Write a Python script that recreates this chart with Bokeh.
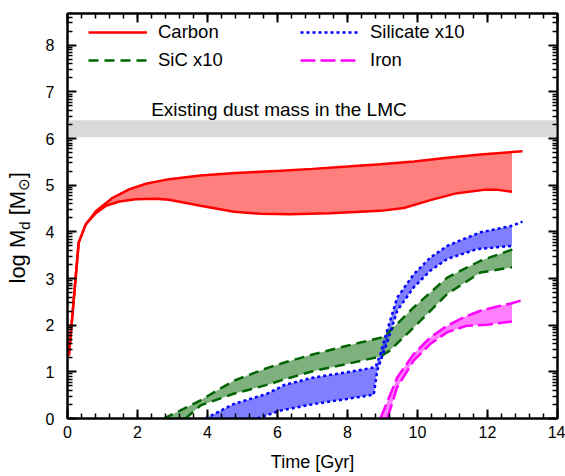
import math
import numpy as np
from bokeh.plotting import figure
from bokeh.layouts import row
from bokeh.models import (FixedTicker, LinearAxis, Legend, LegendItem, Label,
                          BoxAnnotation, Range1d)
from bokeh.embed import file_html
from bokeh.resources import INLINE

# ---------------- data ----------------
carbon_t_upper = [0.04, 0.32, 0.52, 0.81, 1.29, 1.76, 2.24, 2.9, 3.8, 4.8, 6.1, 7.0,
                  8.0, 8.94, 9.9, 10.85, 11.8, 12.7, 13.0]
carbon_upper = [1.35, 3.77, 4.16, 4.44, 4.73, 4.91, 5.03, 5.13, 5.21, 5.26, 5.31, 5.35,
                5.40, 5.45, 5.51, 5.59, 5.66, 5.71, 5.73]
carbon_t_lower = [0.04, 0.32, 0.52, 0.81, 1.1, 1.48, 1.95, 2.52, 2.9, 3.8, 4.76, 5.5,
                  6.37, 7.5, 8.94, 9.61, 10.37, 11.13, 11.9, 12.3, 12.7]
carbon_lower = [1.35, 3.77, 4.16, 4.40, 4.56, 4.65, 4.70, 4.71, 4.69, 4.56, 4.43, 4.39,
                4.38, 4.40, 4.45, 4.51, 4.68, 4.83, 4.90, 4.90, 4.86]

sic_t_upper = [2.75, 3.3, 3.8, 4.75, 5.7, 6.2, 7.04, 7.99, 9.04, 9.45, 9.89, 10.85,
               11.8, 12.7, 12.85]
sic_upper = [0.0, 0.2, 0.39, 0.81, 1.08, 1.2, 1.38, 1.56, 1.75, 2.05, 2.38, 3.02,
             3.38, 3.62, 3.66]
sic_t_lower = [3.37, 3.8, 4.75, 5.7, 6.2, 7.04, 7.99, 8.94, 9.2, 9.89, 10.85, 11.8, 12.7]
sic_lower = [0.0, 0.28, 0.53, 0.72, 0.84, 1.02, 1.17, 1.33, 1.45, 1.95, 2.67, 3.13, 3.24]

sil_t_upper = [3.94, 4.75, 5.7, 6.2, 7.04, 7.99, 8.8, 8.94, 9.13, 9.42, 9.89, 10.37,
               10.85, 11.23, 11.8, 12.7, 13.0]
sil_upper = [0.0, 0.31, 0.53, 0.72, 0.88, 0.99, 1.10, 1.38, 1.88, 2.59, 3.09, 3.45,
             3.70, 3.82, 3.99, 4.13, 4.22]
sil_t_lower = [5.42, 6.09, 7.04, 7.99, 8.75, 8.85, 9.0, 9.13, 9.42, 9.89, 10.37, 10.85,
               11.7, 12.7]
sil_lower = [0.0, 0.17, 0.31, 0.42, 0.51, 1.03, 1.35, 1.62, 2.31, 2.81, 3.17, 3.42,
             3.63, 3.70]

iron_t_upper = [8.94, 9.42, 9.89, 10.37, 10.85, 11.32, 11.8, 12.28, 12.7, 13.0]
iron_upper = [0.0, 0.88, 1.38, 1.74, 1.99, 2.17, 2.31, 2.40, 2.47, 2.54]
iron_t_lower = [9.14, 9.42, 9.89, 10.37, 10.85, 11.42, 11.99, 12.7]
iron_lower = [0.0, 0.67, 1.24, 1.60, 1.85, 1.99, 2.01, 2.08]

band_end = 12.7                      # model end time of the shaded ranges
lmc_dust = [6.03, 6.39]              # existing dust mass range in the LMC (log)
lmc_text = "Existing dust mass in the LMC"

x_major = [0, 2, 4, 6, 8, 10, 12, 14]
y_major = [0, 1, 2, 3, 4, 5, 6, 7, 8]
labels = ["Carbon", "SiC x10", "Silicate x10", "Iron"]

# ---------------- layout constants ----------------
FONT = "Liberation Sans"
X_MAX, Y_MAX = 14, 8.68
W, H = 565, 476
LW = 40                              # width of the strip holding the y-axis title
ML, MR, MT, MB = 67, 8, 13, 58       # frame borders measured from the page

p = figure(width=W - LW, height=H, x_range=Range1d(0, X_MAX), y_range=Range1d(0, Y_MAX),
           output_backend="svg", toolbar_location=None,
           min_border_left=ML - LW, min_border_right=MR, min_border_top=MT,
           min_border_bottom=MB)
p.xgrid.visible = False
p.ygrid.visible = False
p.outline_line_color = "black"
p.outline_line_width = 2
p.background_fill_color = "white"
p.border_fill_color = "white"

x_minor = [round(0.4 * i, 2) for i in range(int(X_MAX / 0.4) + 1)]
y_minor = [n + math.log10(k) for n in range(9) for k in range(2, 10)
           if n + math.log10(k) < Y_MAX]
xt = FixedTicker(ticks=x_major, minor_ticks=x_minor)
yt = FixedTicker(ticks=y_major, minor_ticks=y_minor)


def style_axis(ax, show):
    ax.axis_line_width = 2
    ax.major_tick_line_width = 2
    ax.minor_tick_line_width = 1.5
    ax.major_tick_in = 9
    ax.major_tick_out = 0
    ax.minor_tick_in = 5
    ax.minor_tick_out = 0
    ax.major_label_text_font = FONT
    ax.major_label_text_font_size = "16px"
    ax.major_label_text_color = "black"
    ax.axis_label_text_font = FONT
    ax.axis_label_text_font_style = "normal"
    ax.axis_label_text_font_size = "18px"
    ax.axis_label_text_color = "black"
    if not show:
        ax.major_label_standoff = 0
        ax.major_label_overrides = {t: "" for t in ax.ticker.ticks}


xa = p.xaxis[0]
xa.ticker = xt
style_axis(xa, True)
xa.major_label_standoff = 7
xa.axis_label = "Time [Gyr]"
xa.axis_label_standoff = 11

ya = p.yaxis[0]
ya.ticker = yt
style_axis(ya, True)
ya.major_label_standoff = 13

top = LinearAxis(ticker=FixedTicker(ticks=x_major, minor_ticks=x_minor))
style_axis(top, False)
p.add_layout(top, "above")
right = LinearAxis(ticker=FixedTicker(ticks=y_major, minor_ticks=y_minor))
style_axis(right, False)
p.add_layout(right, "right")

# grey band + its caption
p.add_layout(BoxAnnotation(bottom=lmc_dust[0], top=lmc_dust[1], fill_color="#d9d9d9",
                           fill_alpha=1, line_color=None, level="underlay"))
p.add_layout(Label(x=2.39, y=6.63, text=lmc_text, text_font=FONT, text_font_size="19px",
                   text_color="black", text_baseline="alphabetic", text_align="left"))


def band(tu, yu, tl, yl):
    tu = np.asarray(tu); yu = np.asarray(yu)
    keep = tu <= band_end
    xs = list(tu[keep]); ys = list(yu[keep])
    if xs[-1] < band_end:
        xs.append(band_end); ys.append(float(np.interp(band_end, tu, yu)))
    xs += list(tl)[::-1]; ys += list(yl)[::-1]
    return xs, ys


series = [
    (labels[0], carbon_t_upper, carbon_upper, carbon_t_lower, carbon_lower, "#ff0000", "solid"),
    (labels[1], sic_t_upper, sic_upper, sic_t_lower, sic_lower, "#006400", "10 6"),
    (labels[2], sil_t_upper, sil_upper, sil_t_lower, sil_lower, "#0000ff", "3 3"),
    (labels[3], iron_t_upper, iron_upper, iron_t_lower, iron_lower, "#ff00ff", "15 5"),
]

legend_rend = {}
for name, tu, yu, tl, yl, col, dash in series:
    bx, by = band(tu, yu, tl, yl)
    p.patch(bx, by, fill_color=col, fill_alpha=0.5, line_color=None)
for name, tu, yu, tl, yl, col, dash in series:
    r = p.line(tu, yu, line_color=col, line_width=2.5, line_dash=dash)
    p.line(tl, yl, line_color=col, line_width=2.5, line_dash=dash)
    legend_rend[name] = r

FRAME_H = H - MT - MB


def make_legend(names, x0, top_off):
    return Legend(items=[LegendItem(label=n, renderers=[legend_rend[n]]) for n in names],
                  location=(x0, FRAME_H - top_off - 46), orientation="vertical",
                  glyph_width=59, glyph_height=20, label_height=20, spacing=6, padding=0,
                  margin=0, label_standoff=11, label_text_font=FONT,
                  label_text_font_size="18.5px", label_text_baseline="middle",
                  label_text_color="black",
                  border_line_color=None, background_fill_alpha=0)


p.add_layout(make_legend(labels[:2], 21, 12))
p.add_layout(make_legend(labels[2:], 233, 12))

# ---------------- y-axis title strip (text with subscripts) ----------------
q = figure(width=LW, height=H, x_range=Range1d(0, 1), y_range=Range1d(0, 1),
           output_backend="svg", toolbar_location=None, min_border=0,
           x_axis_location=None, y_axis_location=None)
q.grid.visible = False
q.outline_line_color = None
q.background_fill_color = "white"
q.border_fill_color = "white"

F, S = 22, 15
BASE_X, SUB_DROP, MID = 25, 4, 0.3465   # baseline x, subscript drop, box middle (em)
# (text, font size, is subscript, font, advance in em, gap after in px)
pieces = [("log M", F, False, FONT, 2.445, 0.0),
          ("d", S, True, FONT, 0.556, 0.278 * F),
          ("[M", F, False, FONT, 1.111, 0.0),
          ("\u2299", S, True, "DejaVu Sans", 0.838, 0.0),
          ("]", F, False, FONT, 0.278, 0.0)]
start_page_y = 283
frame_bottom_page = H - MB            # the row aligns this strip's frame with the plot's
pos = 0.0
for txt, size, sub, fnt, wem, gap in pieces:
    w = wem * size
    base = BASE_X + (SUB_DROP if sub else 0)
    cx = base - MID * size
    cy = frame_bottom_page - (start_page_y - pos - w / 2)
    q.add_layout(Label(x=cx, y=cy, x_units="screen", y_units="screen",
                       text=txt, angle=90, angle_units="deg",
                       text_font=fnt, text_font_size=f"{size}px",
                       text_color="black", text_align="center", text_baseline="middle"))
    pos += w + gap

layout = row(q, p, spacing=0)
open("out.html", "w").write(file_html(layout, INLINE))
